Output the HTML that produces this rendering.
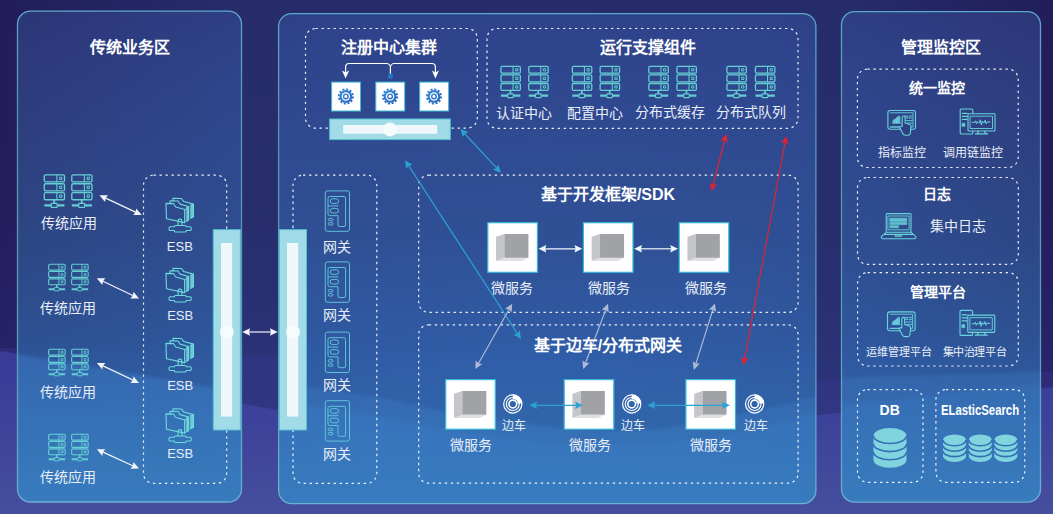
<!DOCTYPE html>
<html lang="zh-CN">
<head>
<meta charset="utf-8">
<title>微服务架构</title>
<style>
html,body{margin:0;padding:0;}
body{width:1053px;height:514px;overflow:hidden;background:#221c5a;font-family:"Liberation Sans",sans-serif;}
#stage{position:relative;width:1053px;height:514px;overflow:hidden;
  background:
    linear-gradient(90deg, rgba(50,90,150,0) 0%, rgba(50,90,150,.1) 8%, rgba(50,90,150,.27) 22%, rgba(50,90,150,.27) 80%, rgba(50,90,150,.1) 93%, rgba(50,90,150,0) 100%),
    linear-gradient(180deg,#221c5a 0%,#231d5c 40%,#272268 66%,#2a2670 80%,#302c7c 100%);}
#art{position:absolute;left:0;top:0;width:1053px;height:514px;}
.t{position:absolute;transform:translate(-50%,-50%);white-space:nowrap;color:#fff;line-height:1;}
.h16{font-size:16px;font-weight:bold;}
.h14{font-size:14px;font-weight:bold;}
.l14{font-size:14px;color:#e9eef8;}
.l13{font-size:13px;color:#e9eef8;}
.l12{font-size:12px;color:#e9eef8;}
.l11{font-size:11px;color:#e9eef8;}
</style>
</head>
<body>
<div id="stage">
<svg id="art" width="1053" height="514" viewBox="0 0 1053 514">
<defs>
  <linearGradient id="pg" gradientUnits="userSpaceOnUse" x1="0" y1="11" x2="0" y2="503">
    <stop offset="0" stop-color="#2c3576"/>
    <stop offset="0.25" stop-color="#2d3d7c"/>
    <stop offset="0.468" stop-color="#2d4582"/>
    <stop offset="0.67" stop-color="#2d5294"/>
    <stop offset="0.71" stop-color="#2e569a"/>
    <stop offset="0.85" stop-color="#3063a3"/>
    <stop offset="1" stop-color="#3170ac"/>
  </linearGradient>
  <linearGradient id="pb" x1="0" y1="0" x2="0" y2="1">
    <stop offset="0" stop-color="#5ba8cb"/>
    <stop offset="0.2" stop-color="#5596b4"/>
    <stop offset="0.6" stop-color="#5a9ab6"/>
    <stop offset="0.9" stop-color="#64a6c8"/>
    <stop offset="1" stop-color="#6cb0d2"/>
  </linearGradient>
  <radialGradient id="hl" gradientUnits="userSpaceOnUse" cx="540" cy="150" r="560" gradientTransform="translate(0 150) scale(1 .72) translate(0 -150)">
    <stop offset="0" stop-color="#3c8cff" stop-opacity=".17"/>
    <stop offset="0.5" stop-color="#3c8cff" stop-opacity=".15"/>
    <stop offset="0.66" stop-color="#3c8cff" stop-opacity=".10"/>
    <stop offset="1" stop-color="#3c8cff" stop-opacity="0"/>
  </radialGradient>
  <linearGradient id="bw" gradientUnits="userSpaceOnUse" x1="0" y1="347" x2="0" y2="514">
    <stop offset="0" stop-color="#393b97"/><stop offset="0.5" stop-color="#3e439a"/><stop offset="1" stop-color="#454f9e"/>
  </linearGradient>
  <filter id="soft" x="-5%" y="-5%" width="110%" height="110%"><feGaussianBlur stdDeviation="1.6"/></filter>
  <clipPath id="pc">
    <rect x="17.5" y="11.2" width="224" height="490.8" rx="13" ry="13"/>
    <rect x="278.6" y="13.6" width="537.3" height="490" rx="13" ry="13"/>
    <rect x="841.5" y="11.7" width="199" height="490.4" rx="13" ry="13"/>
  </clipPath>
  <!-- server icon 22x34 -->
  <symbol id="srv" viewBox="0 0 22 34" overflow="visible">
    <g fill="none" stroke="#68d6d6" stroke-width="1.35" stroke-opacity=".95" stroke-linejoin="round">
      <rect x="0.8" y="0.8" width="20.4" height="7.2" rx="1.4"/>
      <rect x="0.8" y="9.8" width="20.4" height="7.2" rx="1.4"/>
      <rect x="0.8" y="18.8" width="20.4" height="7.2" rx="1.4"/>
      <path d="M13.5 0.8v7.2M13.5 9.8v7.2M13.5 18.8v7.2" stroke-width="1.1"/>
      <rect x="16.2" y="3.2" width="2.4" height="2.4" stroke-width="1"/>
      <rect x="16.2" y="12.2" width="2.4" height="2.4" stroke-width="1"/>
      <rect x="16.2" y="21.2" width="2.4" height="2.4" stroke-width="1"/>
      <path d="M10.8 26v3.6" stroke-width="1.8"/>
      <path d="M0.8 31.6h6.7M14 31.6h7.2" stroke-width="2.4"/>
      <rect x="7.8" y="29.6" width="6" height="4" rx="0.6" stroke-width="1.2"/>
    </g>
  </symbol>

  <!-- ESB icon: local 50x50 grid, origin at (155,190) -->
  <symbol id="esb" viewBox="0 0 50 50" overflow="visible">
    <g fill="none" stroke="#6ddadc" stroke-width="1.05" stroke-linejoin="round" stroke-linecap="round">
      <path d="M30.9 17L32.7 16.5V29.5L30.9 30.4Z M34.7 15L37.4 14.2V26.2L34.7 27.6Z" fill="#7fe0e2" fill-opacity=".8" stroke-width=".7"/>
      <path d="M17.9 11V8.6L25.8 8.9C27 9.2 27 11.4 28.1 11.7L37.4 14.2V26.2L34.7 27.6"/>
      <path d="M15.1 13.5V11.1L22.5 11.2C23.7 11.5 23.6 13.9 24.7 14.2L32.7 16.5V29.5L30.9 30.4"/>
      <path d="M11.2 13.5L18.2 13.7C19.5 14 19.5 16.7 20.7 17L29 19.3V31.8L11.7 28.1Z"/>
      <path d="M29 19.3L30.9 18.6M29 31.8L30.9 30.4" stroke-width=".8"/>
      <path d="M22.7 34.6V30.3a1.8 1.8 0 0 1 3.6 0V34.6"/>
      <path d="M20.3 34.6H29.4a1 1 0 0 1 1 1v.2H34.2a1 1 0 0 1 1 1v1.6a1 1 0 0 1 -1 1H30.4v.4a1 1 0 0 1 -1 1H20.3a1 1 0 0 1 -1 -1V39.4H15.2a1 1 0 0 1 -1 -1v-1.6a1 1 0 0 1 1 -1h4.1V35.6a1 1 0 0 1 1 -1Z"/>
    </g>
  </symbol>
  <!-- gateway icon: local 50x50 grid, origin (312,186) -->
  <symbol id="gw" viewBox="0 0 50 50" overflow="visible">
    <g fill="none" stroke="#62c8d8" stroke-width="1.0" stroke-opacity=".95" stroke-linejoin="round">
      <rect x="13.3" y="5.4" width="24.2" height="40.4" rx="2.2"/>
      <path d="M17.6 11H32a1.6 1.6 0 0 1 1.6 1.6V39.4a1.6 1.6 0 0 1 -1.6 1.6H27.6a1.6 1.6 0 0 1 -1.6 -1.6V30.2H17.6a1.6 1.6 0 0 1 -1.6 -1.6V12.6a1.6 1.6 0 0 1 1.6 -1.6Z"/>
      <rect x="18.2" y="13.3" width="8.4" height="4.6" rx="2.3"/>
      <rect x="18.2" y="22.9" width="8.4" height="4.6" rx="2.3"/>
      <path d="M16 20.4H26.6"/>
      <rect x="16.2" y="33" width="4.8" height="2.3" rx="1.15" stroke-width="1"/>
      <rect x="16.2" y="37.2" width="4.8" height="2.3" rx="1.15" stroke-width="1"/>
    </g>
  </symbol>
  <linearGradient id="gearg" x1="0" y1="0" x2="1" y2="1">
    <stop offset="0" stop-color="#3e8ad8"/><stop offset="1" stop-color="#2464bc"/>
  </linearGradient>
  <!-- gear box 30x30 -->
  <symbol id="gear" viewBox="0 0 30 30" overflow="visible">
    <rect x="0.5" y="0.5" width="29" height="29" fill="#ffffff" stroke="#3bbdd6" stroke-width="1"/>
    <g transform="translate(14.8 14.9)">
      <circle r="7.1" fill="none" stroke="url(#gearg)" stroke-width="2.0" stroke-dasharray="2.1 1.6175"/>
      <circle r="6.4" fill="url(#gearg)"/>
      <circle r="4.2" fill="#ffffff"/>
      <circle r="3.0" fill="url(#gearg)"/>
      <circle r="1.6" fill="#eef5fc"/>
    </g>
  </symbol>
  <!-- cube box 51x51 -->
  <symbol id="cube" viewBox="0 0 51 51" overflow="visible">
    <rect x="0.6" y="0.6" width="49.8" height="49.8" fill="#ffffff" stroke="#35b9d6" stroke-width="1.2"/>
    <path d="M17.3 35.8L41.4 35.8L34.6 39.1L8.9 39.1Z" fill="#dfe0e3"/>
    <path d="M8.9 14.7L17.3 12V35.8L8.9 39.1Z" fill="#c4c6ca"/>
    <rect x="17.3" y="12" width="24.1" height="23.8" fill="#a1a2a6"/>
  </symbol>
  <!-- sidecar icon r=10 centred at 0,0 -->
  <symbol id="sc" viewBox="-11 -11 22 22" overflow="visible">
    <g fill="none" stroke="#ffffff">
      <circle r="9.1" stroke-width="1.2"/>
      <circle r="6.5" stroke-width="1.1"/>
      <circle r="3.9" stroke-width="1.6"/>
    </g>
    <path d="M0.00 -9.70A9.7 9.7 0 0 1 9.68 -0.68L4.99 -0.35A5.0 5.0 0 0 0 0.00 -5.00Z" fill="#ffffff"/>
  </symbol>
  <!-- tablet icon local origin (885,107) size 34x32 -->
  <symbol id="tab" viewBox="0 0 34 32" overflow="visible">
    <g fill="none" stroke="#6ad3dc" stroke-width="1.1" stroke-linejoin="round" stroke-linecap="round">
      <rect x="2.9" y="3.5" width="27.6" height="18.8" rx="2.2"/>
      <path d="M5.4 5.8H28v14.2H25.6M17 20H5.4Z" stroke-width=".9"/>
      <path d="M8 16V13.2h1.7V16M9.7 16V12h1.7v4M11.4 16V10.6h1.7V16M13.1 16V9.2h1.8V16M7.4 16.2H15.6" fill="#6ad3dc" fill-opacity=".8" stroke-width=".7"/>
      <path d="M19.6 9h3.4v2h-3.4ZM24.4 9h2.6M24.4 11h2.6M21 13.6h6M22.4 16h4.6" stroke-width=".9"/>
      <path d="M17.2 19.6V10.4a1.45 1.45 0 0 1 2.9 0V16l4.6 1.5a2 2 0 0 1 1.3 2.1L25.4 25.4a2.4 2.4 0 0 1 -2.4 2.8H20.2a2.6 2.6 0 0 1 -2.3 -1.4L15.2 21.6a1.4 1.4 0 0 1 2 -2Z" fill="var(--hf,#2e4082)"/>
    </g>
  </symbol>
  <!-- monitor icon local origin (958,106) size 40x30 -->
  <symbol id="mon" viewBox="0 0 40 30" overflow="visible">
    <g fill="none" stroke="#6ad3dc" stroke-width="1.1" stroke-linejoin="round" stroke-linecap="round">
      <path d="M14.8 7.6V4a1 1 0 0 0 -1 -1H3.2a1 1 0 0 0 -1 1V27a1 1 0 0 0 1 1H13.8a1 1 0 0 0 1 -1V25.2"/>
      <path d="M4.4 7.4H9M4.4 10.4H9M4.4 13.4H9" stroke-width="1.3"/>
      <rect x="4.3" y="17.3" width="2.6" height="3" fill="#6ad3dc" stroke-width=".6"/>
      <rect x="10" y="7.7" width="27" height="17.3" rx="0.8"/>
      <rect x="12.5" y="10.2" width="22" height="12.3" stroke-width=".9"/>
      <path d="M14.4 16.4h2.4l.8-1.6.9 3 .9-2.2.8 1h1.2l.9-2.8 1 5.2 1-4 .8 1.6h1.2l.9-2.4.9 3.6.9-1.8h3" stroke-width="1"/>
      <path d="M20.4 25.2L19.4 27.6M26.6 25.2L27.6 27.6M17.4 27.8H29.6" stroke-width="1.2"/>
    </g>
  </symbol>
  <!-- laptop icon local origin (878,209) size 40x32 -->
  <symbol id="lap" viewBox="0 0 40 32" overflow="visible">
    <g fill="none" stroke="#6ad3dc" stroke-width="1.1" stroke-linejoin="round" stroke-linecap="round">
      <rect x="8.2" y="4.6" width="24.8" height="18.6" rx="1"/>
      <rect x="10.3" y="7" width="20.8" height="13.8" stroke-width=".9"/>
      <path d="M12 9.2H28.8v3.2H12ZM12 13.6H28.8v2H12ZM12 16.8H20.6v2H12Z" fill="#6ad3dc" fill-opacity=".85" stroke-width=".6"/>
      <path d="M8.2 23.4L3.4 27.4V28.6a1.2 1.2 0 0 0 1.2 1.2H36.6a1.2 1.2 0 0 0 1.2 -1.2V27.4L33 23.4M5.8 25.4H35.2" />
      <path d="M17.2 25.6V27.4H23.8V25.6" fill="#6ad3dc" fill-opacity=".6" stroke-width=".8"/>
    </g>
  </symbol>
</defs>
<path d="M0 348C21.7 348.3 86.7 348.8 130 350C173.3 351.2 191.7 351.3 260 355C328.3 358.7 445.3 367.8 540 372C634.7 376.2 743.8 380.0 828 380C912.2 380.0 1007.5 373.5 1045 372C1082.5 370.5 1051.7 371.2 1053 371V514H0Z" fill="#3a3c98" fill-opacity=".3"/>
<path d="M0 352C2.8 352.3 -4.7 349.0 17 354C38.7 359.0 89.5 373.2 130 382C170.5 390.8 215.0 399.8 260 407C305.0 414.2 353.3 420.8 400 425C446.7 429.2 493.3 431.2 540 432C586.7 432.8 632.0 433.0 680 430C728.0 427.0 784.7 419.0 828 414C871.3 409.0 903.8 404.3 940 400C976.2 395.7 1026.2 390.3 1045 388C1063.8 385.7 1051.7 386.3 1053 386V514H0Z" fill="url(#bw)"/>
<g id="panels" fill="url(#pg)">
  <rect x="17.5" y="11.2" width="224" height="490.8" rx="13" ry="13"/>
  <rect x="278.6" y="13.6" width="537.3" height="490" rx="13" ry="13"/>
  <rect x="841.5" y="11.7" width="199" height="490.4" rx="13" ry="13"/>
</g>
<g clip-path="url(#pc)"><rect x="0" y="0" width="1053" height="514" fill="url(#hl)"/><g filter="url(#soft)"><path d="M0 351C3.0 351.5 -1.8 350.7 18 354C37.8 357.3 86.3 365.5 119 371C151.7 376.5 193.7 383.7 214 387C234.3 390.3 230.2 391.3 241 391C251.8 390.7 256.5 384.0 279 385C301.5 386.0 348.7 392.7 376 397C403.3 401.3 411.8 405.8 443 411C474.2 416.2 530.2 424.8 563 428C595.8 431.2 617.2 431.0 640 430C662.8 429.0 670.7 427.7 700 422C729.3 416.3 792.5 403.2 816 396C839.5 388.8 820.3 382.5 841 379C861.7 375.5 906.8 376.2 940 375C973.2 373.8 1021.2 372.7 1040 372C1058.8 371.3 1050.8 371.2 1053 371V514H0Z" fill="#50aaff" fill-opacity=".12"/><path d="M0 352C3.0 352.5 -1.8 351.7 18 355C37.8 358.3 86.3 366.3 119 372C151.7 377.7 193.7 385.3 214 389C234.3 392.7 230.2 392.2 241 394C251.8 395.8 256.5 396.3 279 400C301.5 403.7 348.7 411.3 376 416C403.3 420.7 411.8 423.3 443 428C474.2 432.7 522.5 442.0 563 444C603.5 446.0 653.2 442.7 686 440C718.8 437.3 738.3 432.7 760 428C781.7 423.3 802.5 415.8 816 412C829.5 408.2 820.3 407.8 841 405C861.7 402.2 906.8 398.7 940 395C973.2 391.3 1021.2 385.2 1040 383C1058.8 380.8 1050.8 382.2 1053 382V514H0Z" fill="#50aaff" fill-opacity=".1"/></g></g>
<g id="pborders" fill="none" stroke="url(#pb)" stroke-width="1.3">
  <rect x="17.5" y="11.2" width="224" height="490.8" rx="13" ry="13"/>
  <rect x="278.6" y="13.6" width="537.3" height="490" rx="13" ry="13"/>
  <rect x="841.5" y="11.7" width="199" height="490.4" rx="13" ry="13"/>
</g>
<g id="dotted" fill="none" stroke="#ffffff" stroke-opacity=".9" stroke-width="1.2" stroke-dasharray="2.4 3.6">
  <rect x="143.5" y="175.2" width="83.2" height="308.2" rx="10"/>
  <rect x="293" y="175.2" width="83.8" height="308.2" rx="10"/>
  <rect x="305.5" y="28.5" width="171.8" height="99.6" rx="10"/>
  <rect x="487" y="28.5" width="311" height="99.8" rx="10"/>
  <rect x="418.7" y="175.2" width="379.4" height="137.2" rx="10"/>
  <rect x="418.7" y="324.8" width="379.4" height="158.4" rx="10"/>
  <rect x="857.4" y="69.1" width="160.8" height="98.4" rx="10"/>
  <rect x="857.5" y="177.5" width="160.8" height="86.9" rx="10"/>
  <rect x="857.6" y="272.6" width="160.7" height="93.4" rx="10"/>
  <rect x="857.5" y="389.6" width="65.5" height="92.7" rx="10"/>
  <rect x="935.9" y="389.6" width="88.8" height="92.7" rx="10"/>
</g>
<g id="bars">
  <rect x="213.3" y="229.7" width="27" height="200.3" fill="#a0dbe7" stroke="#57c3d0" stroke-width="1"/>
  <rect x="221" y="243" width="11.2" height="173.6" fill="#eef7fa"/>
  <circle cx="226.8" cy="332" r="7" fill="#f6fbfd"/>
  <rect x="279.5" y="229.7" width="27" height="200.3" fill="#a0dbe7" stroke="#57c3d0" stroke-width="1"/>
  <rect x="287" y="243" width="11.2" height="173.6" fill="#eef7fa"/>
  <circle cx="293" cy="332" r="7" fill="#f6fbfd"/>
  <rect x="329.7" y="119" width="120.6" height="20.6" fill="#a0dbe7" stroke="#57c3d0" stroke-width="1"/>
  <rect x="343.2" y="125" width="94" height="8.8" fill="#eef7fa"/>
  <circle cx="390" cy="129.4" r="7" fill="#f6fbfd"/>
</g>
<g id="servers"><use href="#srv" x="43.5" y="174" width="21.8" height="33.7"/><use href="#srv" x="71" y="174" width="21.8" height="33.7"/><use href="#srv" x="48" y="263.5" width="17.8" height="27.8"/><use href="#srv" x="71" y="263.5" width="17.8" height="27.8"/><use href="#srv" x="48" y="348.5" width="17.8" height="27.8"/><use href="#srv" x="71" y="348.5" width="17.8" height="27.8"/><use href="#srv" x="48" y="433.5" width="17.8" height="27.8"/><use href="#srv" x="71" y="433.5" width="17.8" height="27.8"/><use href="#srv" x="500" y="65.6" width="21.3" height="32.4"/><use href="#srv" x="527.8" y="65.6" width="21.3" height="32.4"/><use href="#srv" x="571.4" y="65.6" width="21.3" height="32.4"/><use href="#srv" x="599.2" y="65.6" width="21.3" height="32.4"/><use href="#srv" x="647.9" y="65.6" width="21.3" height="32.4"/><use href="#srv" x="676" y="65.6" width="21.3" height="32.4"/><use href="#srv" x="726" y="65.6" width="21.3" height="32.4"/><use href="#srv" x="754.5" y="65.6" width="21.3" height="32.4"/></g>
<g id="icons"><use href="#esb" x="154.2" y="189.2" width="52.5" height="52.5"/><use href="#esb" x="154.2" y="259.2" width="52.5" height="52.5"/><use href="#esb" x="154.2" y="329.2" width="52.5" height="52.5"/><use href="#esb" x="154.2" y="399.7" width="52.5" height="52.5"/><use href="#gw" x="312" y="185.5" width="50" height="50"/><use href="#gw" x="312" y="256.5" width="50" height="50"/><use href="#gw" x="312" y="326.7" width="50" height="50"/><use href="#gw" x="312" y="395.3" width="50" height="50"/><use href="#gear" x="331.1" y="81.6" width="29.9" height="29.9"/><use href="#gear" x="375.3" y="81.6" width="29.9" height="29.9"/><use href="#gear" x="419.2" y="81.6" width="29.9" height="29.9"/><use href="#cube" x="487.2" y="222.1" width="50.8" height="50.8"/><use href="#cube" x="582.8" y="222.1" width="50.8" height="50.8"/><use href="#cube" x="678.6" y="222.1" width="50.8" height="50.8"/><use href="#cube" x="445.1" y="379" width="50.8" height="50.8"/><use href="#cube" x="563.6" y="379" width="50.8" height="50.8"/><use href="#cube" x="685.3" y="379" width="50.8" height="50.8"/><use href="#sc" x="501.79999999999995" y="393" width="22" height="22"/><use href="#sc" x="620.7" y="393" width="22" height="22"/><use href="#sc" x="743.6" y="393" width="22" height="22"/><use href="#tab" x="885" y="107" width="34" height="32"/><use href="#tab" x="884.6" y="308.4" width="34" height="32" style="--hf:#2f589b"/><use href="#mon" x="958" y="106" width="40" height="30"/><use href="#mon" x="957.8" y="307.4" width="40" height="30"/><use href="#lap" x="878" y="209" width="40" height="32"/><g fill="none" stroke="#ffffff" stroke-width="1.2"><path d="M345.6 73V67a3.5 3.5 0 0 1 3.5 -3.5H386.4a4 4 0 0 1 4 4V75.4M435.4 73V67a3.5 3.5 0 0 0 -3.5 -3.5H394.4a4 4 0 0 0 -4 4"/></g><path d="M345.6 78.6L342 70.4L345.6 72.4L349.2 70.4Z M435.4 78.6L431.8 70.4L435.4 72.4L439 70.4Z" fill="#ffffff"/><circle cx="390.4" cy="76.2" r="2.6" fill="#2a72c8"/><path d="M873.5 435.8V460.1A16.5 7.7 0 0 0 906.5 460.1V435.8A16.5 7.7 0 0 0 873.5 435.8Z" fill="#7fd4de"/><path d="M873.5 435.8A16.5 7.7 0 0 0 906.5 435.8" fill="none" stroke="#356fb6" stroke-width="1.6"/><path d="M873.5 443.9A16.5 7.7 0 0 0 906.5 443.9" fill="none" stroke="#356fb6" stroke-width="1.6"/><path d="M873.5 452.0A16.5 7.7 0 0 0 906.5 452.0" fill="none" stroke="#356fb6" stroke-width="1.6"/><path d="M943.0 440.09999999999997V456.3A11.5 5.7 0 0 0 966.0 456.3V440.09999999999997A11.5 5.7 0 0 0 943.0 440.09999999999997Z" fill="#7fd4de"/><path d="M943.0 440.1A11.5 5.7 0 0 0 966.0 440.1" fill="none" stroke="#356fb6" stroke-width="1.6"/><path d="M943.0 445.5A11.5 5.7 0 0 0 966.0 445.5" fill="none" stroke="#356fb6" stroke-width="1.6"/><path d="M943.0 450.9A11.5 5.7 0 0 0 966.0 450.9" fill="none" stroke="#356fb6" stroke-width="1.6"/><path d="M968.8 440.09999999999997V456.3A11.5 5.7 0 0 0 991.8 456.3V440.09999999999997A11.5 5.7 0 0 0 968.8 440.09999999999997Z" fill="#7fd4de"/><path d="M968.8 440.1A11.5 5.7 0 0 0 991.8 440.1" fill="none" stroke="#356fb6" stroke-width="1.6"/><path d="M968.8 445.5A11.5 5.7 0 0 0 991.8 445.5" fill="none" stroke="#356fb6" stroke-width="1.6"/><path d="M968.8 450.9A11.5 5.7 0 0 0 991.8 450.9" fill="none" stroke="#356fb6" stroke-width="1.6"/><path d="M994.3 440.09999999999997V456.3A11.5 5.7 0 0 0 1017.3 456.3V440.09999999999997A11.5 5.7 0 0 0 994.3 440.09999999999997Z" fill="#7fd4de"/><path d="M994.3 440.1A11.5 5.7 0 0 0 1017.3 440.1" fill="none" stroke="#356fb6" stroke-width="1.6"/><path d="M994.3 445.5A11.5 5.7 0 0 0 1017.3 445.5" fill="none" stroke="#356fb6" stroke-width="1.6"/><path d="M994.3 450.9A11.5 5.7 0 0 0 1017.3 450.9" fill="none" stroke="#356fb6" stroke-width="1.6"/></g>
<g id="arrows"><g opacity="1"><line x1="105.1" y1="197.9" x2="136.1" y2="212.4" stroke="#f2f5fb" stroke-width="1.2"/><path d="M141.7 215.1L133.1 215.1L135.6 212.2L136.2 208.4Z" fill="#f2f5fb"/><path d="M99.5 195.2L105.0 201.9L105.6 198.1L108.1 195.2Z" fill="#f2f5fb"/></g><g opacity="1"><line x1="102.4" y1="281.0" x2="133.4" y2="295.7" stroke="#f2f5fb" stroke-width="1.2"/><path d="M139.0 298.4L130.4 298.4L132.9 295.5L133.5 291.7Z" fill="#f2f5fb"/><path d="M96.8 278.3L102.3 285.0L102.9 281.2L105.4 278.3Z" fill="#f2f5fb"/></g><g opacity="1"><line x1="102.4" y1="365.6" x2="133.4" y2="380.3" stroke="#f2f5fb" stroke-width="1.2"/><path d="M139.0 383.0L130.4 383.0L132.9 380.1L133.5 376.3Z" fill="#f2f5fb"/><path d="M96.8 362.9L102.3 369.6L102.9 365.8L105.4 362.9Z" fill="#f2f5fb"/></g><g opacity="1"><line x1="102.5" y1="451.9" x2="133.3" y2="466.0" stroke="#f2f5fb" stroke-width="1.2"/><path d="M139.0 468.6L130.4 468.7L132.9 465.8L133.4 462.0Z" fill="#f2f5fb"/><path d="M96.8 449.3L102.4 455.9L102.9 452.1L105.4 449.2Z" fill="#f2f5fb"/></g><g opacity="1"><line x1="248.5" y1="332.0" x2="271.5" y2="332.0" stroke="#f2f5fb" stroke-width="1.2"/><path d="M277.7 332.0L269.9 335.7L271.0 332.0L269.9 328.3Z" fill="#f2f5fb"/><path d="M242.3 332.0L250.1 335.7L249.0 332.0L250.1 328.3Z" fill="#f2f5fb"/></g><g opacity="1"><line x1="544.7" y1="248.8" x2="576.1" y2="248.8" stroke="#f2f5fb" stroke-width="1.2"/><path d="M582.3 248.8L574.5 252.5L575.6 248.8L574.5 245.1Z" fill="#f2f5fb"/><path d="M538.5 248.8L546.3 252.5L545.2 248.8L546.3 245.1Z" fill="#f2f5fb"/></g><g opacity="1"><line x1="640.4" y1="248.8" x2="671.8" y2="248.8" stroke="#f2f5fb" stroke-width="1.2"/><path d="M678.0 248.8L670.2 252.5L671.3 248.8L670.2 245.1Z" fill="#f2f5fb"/><path d="M634.2 248.8L642.0 252.5L640.9 248.8L642.0 245.1Z" fill="#f2f5fb"/></g><g opacity="1"><line x1="464.5" y1="133.5" x2="496.7" y2="168.2" stroke="#2aa3d3" stroke-width="1.2"/><path d="M500.9 172.8L492.9 169.6L496.3 167.9L498.3 164.6Z" fill="#2aa3d3"/><path d="M460.3 128.9L462.9 137.1L464.9 133.8L468.3 132.1Z" fill="#2aa3d3"/></g><g opacity="1"><line x1="408.5" y1="165.4" x2="517.5" y2="333.8" stroke="#2aa3d3" stroke-width="1.2"/><path d="M520.9 339.0L513.6 334.5L517.3 333.4L519.8 330.4Z" fill="#2aa3d3"/><path d="M405.1 160.2L406.2 168.8L408.7 165.8L412.4 164.7Z" fill="#2aa3d3"/></g><g opacity="1"><line x1="535.4" y1="405.3" x2="576.7" y2="405.3" stroke="#2aa3d3" stroke-width="1.2"/><path d="M582.9 405.3L575.1 409.0L576.2 405.3L575.1 401.6Z" fill="#2aa3d3"/><path d="M529.2 405.3L537.0 409.0L535.9 405.3L537.0 401.6Z" fill="#2aa3d3"/></g><g opacity="1"><line x1="653.5" y1="405.3" x2="723.7" y2="405.3" stroke="#2aa3d3" stroke-width="1.2"/><path d="M729.9 405.3L722.1 409.0L723.2 405.3L722.1 401.6Z" fill="#2aa3d3"/><path d="M647.3 405.3L655.1 409.0L654.0 405.3L655.1 401.6Z" fill="#2aa3d3"/></g><g opacity="1"><line x1="724.6" y1="140.0" x2="713.1" y2="185.2" stroke="#e2232f" stroke-width="1.2"/><path d="M711.5 191.2L709.9 182.7L713.2 184.7L717.0 184.6Z" fill="#e2232f"/><path d="M726.2 134.0L720.7 140.6L724.5 140.5L727.8 142.5Z" fill="#e2232f"/></g><g opacity="1"><line x1="785.1" y1="142.0" x2="744.5" y2="359.2" stroke="#e2232f" stroke-width="1.2"/><path d="M743.4 365.3L741.2 357.0L744.6 358.7L748.5 358.3Z" fill="#e2232f"/><path d="M786.2 135.9L781.1 142.9L785.0 142.5L788.4 144.2Z" fill="#e2232f"/></g><g opacity="1"><line x1="509.1" y1="309.2" x2="478.3" y2="363.7" stroke="#aeb9d6" stroke-width="1.2"/><path d="M475.2 369.1L475.8 360.5L478.5 363.3L482.3 364.1Z" fill="#aeb9d6"/><path d="M512.2 303.8L505.1 308.8L508.9 309.6L511.6 312.4Z" fill="#aeb9d6"/></g><g opacity="1"><line x1="605.8" y1="309.6" x2="585.4" y2="363.3" stroke="#aeb9d6" stroke-width="1.2"/><path d="M583.2 369.1L582.5 360.5L585.6 362.8L589.4 363.1Z" fill="#aeb9d6"/><path d="M608.0 303.8L601.8 309.8L605.6 310.1L608.7 312.4Z" fill="#aeb9d6"/></g><g opacity="1"><line x1="713.0" y1="309.4" x2="695.8" y2="363.9" stroke="#aeb9d6" stroke-width="1.2"/><path d="M693.9 369.9L692.7 361.3L695.9 363.5L699.8 363.6Z" fill="#aeb9d6"/><path d="M714.9 303.4L709.0 309.7L712.9 309.8L716.1 312.0Z" fill="#aeb9d6"/></g></g>
</svg>
<!-- TEXT -->
<div class="t h16" style="left:129.5px;top:48px">传统业务区</div>
<div class="t h16" style="left:388.6px;top:47.9px">注册中心集群</div>
<div class="t h16" style="left:647.7px;top:47.9px">运行支撑组件</div>
<div class="t h16" style="left:941px;top:47.5px">管理监控区</div>
<div class="t h16" style="left:608px;top:195.2px">基于开发框架/SDK</div>
<div class="t h16" style="left:608px;top:345.9px">基于边车/分布式网关</div>

<div class="t l14" style="left:524.2px;top:112.5px">认证中心</div>
<div class="t l14" style="left:594.6px;top:112.5px">配置中心</div>
<div class="t l14" style="left:670.1px;top:112.4px">分布式缓存</div>
<div class="t l14" style="left:750.7px;top:112.4px">分布式队列</div>

<div class="t l14" style="left:68.6px;top:223.4px">传统应用</div>
<div class="t l14" style="left:68px;top:307.5px">传统应用</div>
<div class="t l14" style="left:68px;top:391.5px">传统应用</div>
<div class="t l14" style="left:68px;top:476.5px">传统应用</div>

<div class="t l13" style="left:179.8px;top:246.2px">ESB</div>
<div class="t l13" style="left:180.2px;top:314.5px">ESB</div>
<div class="t l13" style="left:180.2px;top:384.6px">ESB</div>
<div class="t l13" style="left:180.2px;top:452.8px">ESB</div>

<div class="t l14" style="left:337.4px;top:247px">网关</div>
<div class="t l14" style="left:337.4px;top:315.2px">网关</div>
<div class="t l14" style="left:337.4px;top:385px">网关</div>
<div class="t l14" style="left:337.4px;top:453.6px">网关</div>

<div class="t l14" style="left:511.8px;top:288px">微服务</div>
<div class="t l14" style="left:609px;top:288px">微服务</div>
<div class="t l14" style="left:705.9px;top:288px">微服务</div>

<div class="t l14" style="left:470.6px;top:445.1px">微服务</div>
<div class="t l14" style="left:589.9px;top:445.1px">微服务</div>
<div class="t l14" style="left:710.9px;top:445.1px">微服务</div>
<div class="t l12" style="left:513.6px;top:425.5px">边车</div>
<div class="t l12" style="left:633.3px;top:425.5px">边车</div>
<div class="t l12" style="left:755.7px;top:425.5px">边车</div>

<div class="t h14" style="left:937.1px;top:88.2px">统一监控</div>
<div class="t l12" style="left:901.6px;top:152.8px">指标监控</div>
<div class="t l12" style="left:972.8px;top:152.8px">调用链监控</div>
<div class="t h14" style="left:936.8px;top:193.8px">日志</div>
<div class="t l14" style="left:957.9px;top:226px">集中日志</div>
<div class="t h14" style="left:937.6px;top:292.4px">管理平台</div>
<div class="t l11" style="left:899px;top:351.7px">运维管理平台</div>
<div class="t l11" style="left:974.5px;top:351.7px;letter-spacing:-.4px">集中治理平台</div>
<div class="t h14" style="left:889.7px;top:410px">DB</div>
<div class="t h14" style="left:979.9px;top:410px;transform:translate(-50%,-50%) scaleX(.81)">ELasticSearch</div>

</div>
</body>
</html>
